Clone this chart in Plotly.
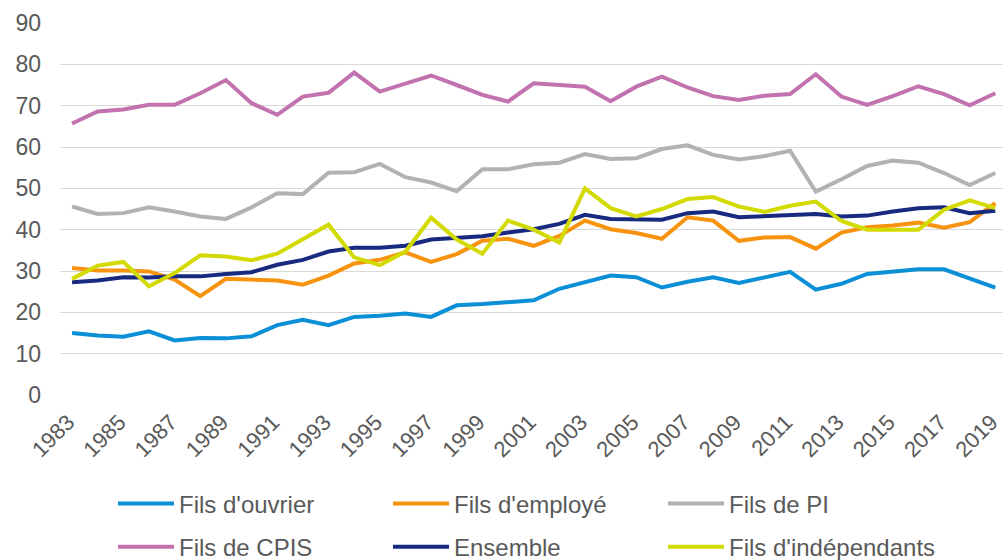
import plotly.graph_objects as go

years = list(range(1983, 2020))

ouvrier = [15.0, 14.4, 14.1, 15.4, 13.2, 13.8, 13.7, 14.2, 16.9, 18.2, 16.9, 18.9,
           19.2, 19.7, 18.9, 21.7, 22.0, 22.5, 22.9, 25.7, 27.4, 28.9, 28.5, 26.0, 27.4,
           28.5, 27.1, 28.5, 29.8, 25.5, 26.9, 29.3, 29.8, 30.4, 30.4, 28.1, 26.0]
employe = [30.7, 30.1, 30.1, 29.9, 27.9, 23.9, 28.1, 28.0, 27.7, 26.7, 28.9, 31.8,
           32.7, 34.5, 32.2, 34.1, 37.3, 37.8, 36.1, 38.5, 42.2, 40.1, 39.2, 37.8, 43.0,
           42.2, 37.3, 38.1, 38.2, 35.4, 39.3, 40.6, 41.0, 41.7, 40.5, 41.8, 46.4]
pi = [45.6, 43.8, 44.0, 45.4, 44.4, 43.2, 42.6, 45.4, 48.8, 48.6, 53.8, 53.9,
      55.9, 52.7, 51.4, 49.3, 54.6, 54.6, 55.8, 56.2, 58.3, 57.1, 57.3, 59.5, 60.4,
      58.1, 57.0, 57.8, 59.1, 49.2, 52.2, 55.4, 56.7, 56.2, 53.7, 50.8, 53.7]
cpis = [65.7, 68.6, 69.1, 70.2, 70.2, 73.0, 76.2, 70.6, 67.8, 72.2, 73.1, 78.0,
        73.4, 75.4, 77.3, 75.0, 72.6, 71.0, 75.4, 75.0, 74.6, 71.1, 74.6, 77.0, 74.4,
        72.3, 71.4, 72.4, 72.8, 77.6, 72.2, 70.2, 72.3, 74.7, 72.8, 70.1, 73.0]
ensemble = [27.3, 27.7, 28.5, 28.4, 28.7, 28.7, 29.3, 29.7, 31.5, 32.7, 34.7, 35.6,
            35.6, 36.1, 37.6, 37.9, 38.4, 39.3, 40.1, 41.4, 43.6, 42.6, 42.4, 42.4, 44.0,
            44.4, 43.0, 43.2, 43.6, 43.8, 43.2, 43.4, 44.4, 45.2, 45.4, 44.0, 44.6]
independants = [28.1, 31.3, 32.2, 26.3, 29.5, 33.8, 33.5, 32.6, 34.2, 37.6, 41.2, 33.3,
                31.4, 34.7, 42.9, 37.6, 34.2, 42.2, 40.0, 36.9, 50.0, 45.2, 43.2, 45.0, 47.4,
                47.9, 45.6, 44.3, 45.8, 46.8, 42.1, 40.0, 40.0, 40.0, 44.8, 47.1, 45.2]

tick_years = list(range(1983, 2020, 2))
y_ticks = list(range(0, 91, 10))

series = [
    ("Fils d'ouvrier", ouvrier, "#0B8FD6", "legend"),
    ("Fils d'employé", employe, "#F7930F", "legend"),
    ("Fils de PI", pi, "#B2B2B2", "legend"),
    ("Fils de CPIS", cpis, "#C273AF", "legend2"),
    ("Ensemble", ensemble, "#172A80", "legend2"),
    ("Fils d'indépendants", independants, "#D3DA00", "legend2"),
]

fig = go.Figure()
for name, vals, color, leg in series:
    fig.add_trace(go.Scatter(x=years, y=vals, name=name, mode="lines",
                             line=dict(color=color, width=4), legend=leg))

font_color = "#595959"
FONT = "Liberation Sans, Arial"
legend_common = dict(orientation="h", xanchor="left", yanchor="middle",
                     font=dict(family=FONT, size=24, color=font_color),
                     entrywidth=204, entrywidthmode="pixels",
                     bgcolor="rgba(0,0,0,0)", itemwidth=56, tracegroupgap=0)

fig.update_layout(
    width=1003, height=560,
    margin=dict(l=60, r=0, t=23, b=164.5, autoexpand=False),
    paper_bgcolor="white", plot_bgcolor="white",
    font=dict(family=FONT, size=23, color=font_color),
    showlegend=True,
    legend=dict(x=0.0562, y=-0.293, **legend_common),
    legend2=dict(x=0.0562, y=-0.409, **legend_common),
    xaxis=dict(range=[1982.53, 2019.3], tickmode="array", tickvals=tick_years,
               ticktext=[str(y) for y in tick_years], tickangle=-45,
               showgrid=False, zeroline=False, showline=False, ticks="",
               automargin=False, ticklabeloverflow="allow", ticklabelstandoff=9,
               ticklabelshift=-4,
               tickfont=dict(family=FONT, size=22, color=font_color)),
    yaxis=dict(range=[0, 90], tickmode="array", tickvals=y_ticks,
               showgrid=True, gridcolor="#D9D9D9", gridwidth=1.3,
               zeroline=False, showline=False, ticks="", automargin=False,
               ticklabelstandoff=18,
               tickfont=dict(family=FONT, size=23, color=font_color)),
)

fig.write_html("out.html", config={"displayModeBar": False},
               post_script="document.body.style.margin='0';")
